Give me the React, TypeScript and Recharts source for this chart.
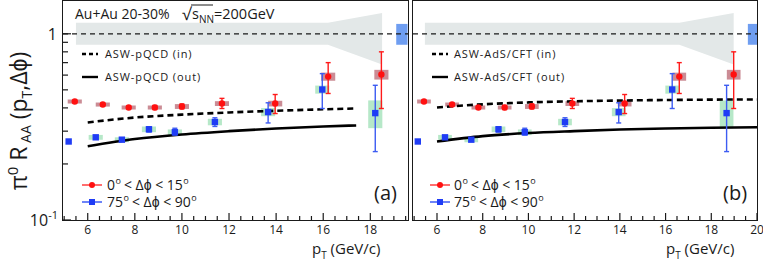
import React from "react";
import {
  ComposedChart,
  Scatter,
  Line,
  Area,
  XAxis,
  YAxis,
  ErrorBar,
  ReferenceLine,
  ReferenceArea,
} from "recharts";

// measured values, shared by both panels
const RED_RAA = [0.433, 0.417, 0.402, 0.402, 0.407, 0.422, 0.422, 0.589, 0.604];
const RED_ERR_LO = [0.005, 0.005, 0.006, 0.01, 0.012, 0.025, 0.049, 0.111, 0.207];
const RED_ERR_HI = [0.005, 0.005, 0.006, 0.01, 0.013, 0.028, 0.05, 0.111, 0.196];
const RED_SYS = [0.025, 0.025, 0.025, 0.025, 0.03, 0.03, 0.035, 0.05, 0.06];

const BLUE_RAA = [0.264, 0.278, 0.27, 0.307, 0.296, 0.336, 0.38, 0.502, 0.375];
const BLUE_ERR_LO = [0.004, 0.005, 0.005, 0.01, 0.01, 0.018, 0.048, 0.105, 0.142];
const BLUE_ERR_HI = [0.004, 0.005, 0.005, 0.01, 0.015, 0.018, 0.046, 0.109, 0.154];
const BLUE_SYS = [0.03, 0.03, 0.03, 0.035, 0.035, 0.04, 0.05, 0.05, 0.17];

// plotted pT positions (points are shifted a little in each panel)
const A_RED_PT = [5.45, 6.64, 7.74, 8.85, 10.0, 11.7, 13.96, 16.21, 18.47];
const A_BLUE_PT = [5.19, 6.34, 7.45, 8.6, 9.7, 11.4, 13.66, 15.96, 18.21];
const B_RED_PT = [5.43, 6.66, 7.81, 8.96, 10.15, 11.92, 14.21, 16.6, 18.98];
const B_BLUE_PT = [5.16, 6.35, 7.5, 8.69, 9.84, 11.6, 13.95, 16.29, 18.67];

// model curves
const A_CURVE_PT = [6, 8, 10, 12, 14, 16, 17.4];
const A_IN = [0.334, 0.355, 0.368, 0.378, 0.386, 0.393, 0.397];
const A_OUT = [0.249, 0.272, 0.288, 0.3, 0.31, 0.318, 0.322];
const B_CURVE_PT = [6, 8, 10, 12, 14, 16, 18, 20];
const B_IN = [0.402, 0.418, 0.428, 0.434, 0.438, 0.441, 0.443, 0.444];
const B_OUT = [0.264, 0.282, 0.293, 0.3, 0.306, 0.31, 0.313, 0.315];

// grey uncertainty band around 1
const A_BAND_PT = [5.5, 16.2, 18.5];
const B_BAND_PT = [5.47, 16.6, 18.98];
const BAND_LO = [0.873, 0.873, 0.683];
const BAND_HI = [1.145, 1.145, 1.295];

// normalisation box [pT from, pT to, low, high]
const A_NORM = [19.1, 19.58, 0.873, 1.13];
const B_NORM = [19.6, 20, 0.873, 1.13];

const Y_TICKS = [0.1, 0.2, 0.3, 0.4, 0.5, 0.6, 0.7, 0.8, 0.9, 1];
const A_X_TICKS = [5, 5.5, 6, 6.5, 7, 7.5, 8, 8.5, 9, 9.5, 10, 10.5, 11, 11.5, 12, 12.5, 13, 13.5, 14, 14.5, 15, 15.5, 16, 16.5, 17, 17.5, 18, 18.5, 19, 19.5];
const B_X_TICKS = [5, 5.5, 6, 6.5, 7, 7.5, 8, 8.5, 9, 9.5, 10, 10.5, 11, 11.5, 12, 12.5, 13, 13.5, 14, 14.5, 15, 15.5, 16, 16.5, 17, 17.5, 18, 18.5, 19, 19.5, 20];

const FONT = '"Open Sans", sans-serif';
const INK = "#1a1a1a";
const TOP = 1;
const BOTTOM = 220;
const BOX_HW = 0.3;

const points = (pt: number[], raa: number[], lo: number[], hi: number[]) =>
  pt.map((x, i) => ({ x, y: raa[i], err: [lo[i], hi[i]] }));
const curve = (pt: number[], v: number[]) => pt.map((x, i) => ({ x, y: v[i] }));
const band = (pt: number[]) => pt.map((x, i) => ({ x, range: [BAND_LO[i], BAND_HI[i]] }));

function makeYTick(x0: number, labels: boolean) {
  return (props: any) => {
    const { y, payload } = props;
    const v = payload.value;
    const major = v === 1 || v === 0.1;
    return (
      <g>
        <line x1={x0} x2={x0 + (major ? 8 : 5)} y1={y} y2={y} stroke={INK} strokeWidth={1.2} />
        {labels && v === 1 && (
          <text x={x0 - 6} y={y + 6} textAnchor="end" fontSize={16} fill={INK} fontFamily={FONT}>1</text>
        )}
        {labels && v === 0.1 && (
          <text x={x0 - 5} y={y + 6} textAnchor="end" fontSize={16} fill={INK} fontFamily={FONT}>
            10<tspan dy={-7} fontSize={11}>-1</tspan>
          </text>
        )}
      </g>
    );
  };
}

const XTick = (props: any) => {
  const { x, payload } = props;
  const v = payload.value;
  const major = v % 2 === 0;
  return (
    <g>
      <line x1={x} x2={x} y1={BOTTOM} y2={BOTTOM - (major ? 7 : 4)} stroke={INK} strokeWidth={1.2} />
      {major && (
        <text x={x} y={BOTTOM + 14} textAnchor="middle" fontSize={12} fill={INK} fontFamily={FONT}>{v}</text>
      )}
    </g>
  );
};

const RedDot = (p: any) => <circle cx={p.cx} cy={p.cy} r={3.2} fill="#ff1010" />;
const BlueSquare = (p: any) => <rect x={p.cx - 3.2} y={p.cy - 3.2} width={6.4} height={6.4} fill="#1f3cf5" />;

interface PanelProps {
  left: number;
  width: number;
  rightMargin: number;
  yAxisWidth: number;
  xMax: number;
  xTicks: number[];
  redPt: number[];
  bluePt: number[];
  curvePt: number[];
  inVals: number[];
  outVals: number[];
  bandPt: number[];
  norm: number[];
}

function Panel(p: PanelProps) {
  const red = points(p.redPt, RED_RAA, RED_ERR_LO, RED_ERR_HI);
  const blue = points(p.bluePt, BLUE_RAA, BLUE_ERR_LO, BLUE_ERR_HI);
  const plotRight = p.width - p.rightMargin;
  return (
    <div style={{ position: "absolute", left: p.left, top: 0 }}>
      <ComposedChart width={p.width} height={263} margin={{ top: TOP, right: p.rightMargin, bottom: 0, left: 0 }}>
        <XAxis
          type="number"
          dataKey="x"
          domain={[4.95, p.xMax]}
          allowDataOverflow
          ticks={p.xTicks}
          interval={0}
          axisLine={false}
          tickLine={false}
          tick={XTick}
          height={263 - BOTTOM}
        />
        <YAxis
          type="number"
          dataKey="y"
          scale="log"
          domain={[0.1, 1.5]}
          allowDataOverflow
          ticks={Y_TICKS}
          interval={0}
          axisLine={false}
          tickLine={false}
          tick={makeYTick(p.yAxisWidth, p.yAxisWidth > 0)}
          width={p.yAxisWidth}
        />
        <Area
          data={band(p.bandPt)}
          dataKey="range"
          type="linear"
          fill="#e3e8e8"
          fillOpacity={1}
          stroke="none"
          isAnimationActive={false}
        />
        <ReferenceLine y={1} stroke={INK} strokeWidth={1.2} strokeDasharray="5 4" />
        <ReferenceArea x1={p.norm[0]} x2={p.norm[1]} y1={p.norm[2]} y2={p.norm[3]} fill="#5f93f0" fillOpacity={0.9} stroke="none" />
        {p.redPt.map((x, i) => (
          <ReferenceArea
            key={"rs" + i}
            x1={x - BOX_HW}
            x2={x + BOX_HW}
            y1={RED_RAA[i] * (1 - RED_SYS[i])}
            y2={RED_RAA[i] * (1 + RED_SYS[i])}
            fill="#a8404f"
            fillOpacity={0.6}
            stroke="none"
          />
        ))}
        {p.bluePt.map((x, i) => (
          <ReferenceArea
            key={"bs" + i}
            x1={x - BOX_HW}
            x2={x + BOX_HW}
            y1={BLUE_RAA[i] * (1 - BLUE_SYS[i])}
            y2={BLUE_RAA[i] * (1 + BLUE_SYS[i])}
            fill="#8fdcaa"
            fillOpacity={0.65}
            stroke="none"
          />
        ))}
        <Line data={curve(p.curvePt, p.inVals)} dataKey="y" type="monotone" stroke="#000" strokeWidth={2.6} strokeDasharray="6 4" dot={false} isAnimationActive={false} />
        <Line data={curve(p.curvePt, p.outVals)} dataKey="y" type="monotone" stroke="#000" strokeWidth={2.6} dot={false} isAnimationActive={false} />
        <Scatter data={blue} shape={BlueSquare} isAnimationActive={false}>
          <ErrorBar dataKey="err" direction="y" stroke="#3d5cf2" strokeWidth={1.4} width={2.5} />
        </Scatter>
        <Scatter data={red} shape={RedDot} isAnimationActive={false}>
          <ErrorBar dataKey="err" direction="y" stroke="#ff1a1a" strokeWidth={1.4} width={2.5} />
        </Scatter>
      </ComposedChart>
      <div
        style={{
          position: "absolute",
          left: p.yAxisWidth - 1,
          top: TOP - 1,
          width: plotRight - p.yAxisWidth,
          height: BOTTOM - TOP,
          border: "1.5px solid " + INK,
          pointerEvents: "none",
        }}
      />
    </div>
  );
}

function Legends() {
  const t = { fontFamily: FONT, fill: INK } as const;
  const modelLegend = (x0: number, xt: number, a: string, b: string) => (
    <g>
      <line x1={x0} x2={x0 + 16} y1={54} y2={54} stroke="#000" strokeWidth={2.4} strokeDasharray="4 3" />
      <text x={xt} y={58} fontSize={11} letterSpacing={0.9} {...t}>{a}</text>
      <line x1={x0} x2={x0 + 16} y1={77} y2={77} stroke="#000" strokeWidth={2.4} />
      <text x={xt} y={81} fontSize={11} letterSpacing={0.9} {...t}>{b}</text>
    </g>
  );
  const dataLegend = (x0: number, xt: number) => (
    <g>
      <line x1={x0} x2={x0 + 20} y1={185} y2={185} stroke="#ff3030" strokeWidth={1.4} />
      <circle cx={x0 + 10} cy={185} r={3} fill="#ff1010" />
      <text x={xt} y={190} fontSize={14} {...t}>
        0<tspan dy={-6} dx={0.5} fontSize={9}>o</tspan>
        <tspan dy={6} dx={3}>&lt; Δϕ &lt; 15</tspan>
        <tspan dy={-6} dx={0.5} fontSize={9}>o</tspan>
      </text>
      <line x1={x0} x2={x0 + 20} y1={202} y2={202} stroke="#3050f5" strokeWidth={1.4} />
      <rect x={x0 + 7} y={199} width={6} height={6} fill="#1f3cf5" />
      <text x={xt} y={207} fontSize={14} {...t}>
        75<tspan dy={-6} dx={0.5} fontSize={9}>o</tspan>
        <tspan dy={6} dx={3}>&lt; Δϕ &lt; 90</tspan>
        <tspan dy={-6} dx={0.5} fontSize={9}>o</tspan>
      </text>
    </g>
  );
  return (
    <svg width={763} height={263} style={{ position: "absolute", left: 0, top: 0, pointerEvents: "none" }}>
      <text x={75} y={19} fontSize={14} {...t}>Au+Au 20-30%</text>
      <text x={182} y={20} fontSize={17} {...t}>√</text>
      <line x1={191} x2={213} y1={5} y2={5} stroke={INK} strokeWidth={1} />
      <text x={192} y={19} fontSize={14.5} {...t}>
        s<tspan dy={4} fontSize={10}>NN</tspan>
        <tspan dy={-4}>=200GeV</tspan>
      </text>
      {modelLegend(82, 105, "ASW-pQCD (in)", "ASW-pQCD (out)")}
      {modelLegend(432, 454, "ASW-AdS/CFT (in)", "ASW-AdS/CFT (out)")}
      {dataLegend(82, 107)}
      {dataLegend(430, 454)}
      <text x={374} y={200} fontSize={20} {...t}>(a)</text>
      <text x={723} y={200} fontSize={20} {...t}>(b)</text>
      <text x={312} y={254} fontSize={15} {...t}>
        p<tspan dy={5} fontSize={10}>T</tspan>
        <tspan dy={-5}> (GeV/c)</tspan>
      </text>
      <text x={666} y={254} fontSize={15} {...t}>
        p<tspan dy={5} fontSize={10}>T</tspan>
        <tspan dy={-5}> (GeV/c)</tspan>
      </text>
      <text x={27} y={121} fontSize={23} textAnchor="middle" transform="rotate(-90 27 121)" {...t}>
        π<tspan dy={-9} fontSize={15}>0</tspan>
        <tspan dy={9}> R</tspan>
        <tspan dy={4} fontSize={14}> AA</tspan>
        <tspan dy={-4}> (p</tspan>
        <tspan dy={5} fontSize={14}>T</tspan>
        <tspan dy={-5}>,Δϕ)</tspan>
      </text>
    </svg>
  );
}

export default function App() {
  return (
    <div style={{ position: "absolute", left: 0, top: 0, width: 763, height: 263, background: "#fff", overflow: "hidden" }}>
      <Panel
        left={0}
        width={410}
        rightMargin={2}
        yAxisWidth={63}
        xMax={19.6}
        xTicks={A_X_TICKS}
        redPt={A_RED_PT}
        bluePt={A_BLUE_PT}
        curvePt={A_CURVE_PT}
        inVals={A_IN}
        outVals={A_OUT}
        bandPt={A_BAND_PT}
        norm={A_NORM}
      />
      <Panel
        left={413}
        width={350}
        rightMargin={6}
        yAxisWidth={0}
        xMax={20}
        xTicks={B_X_TICKS}
        redPt={B_RED_PT}
        bluePt={B_BLUE_PT}
        curvePt={B_CURVE_PT}
        inVals={B_IN}
        outVals={B_OUT}
        bandPt={B_BAND_PT}
        norm={B_NORM}
      />
      <Legends />
    </div>
  );
}
